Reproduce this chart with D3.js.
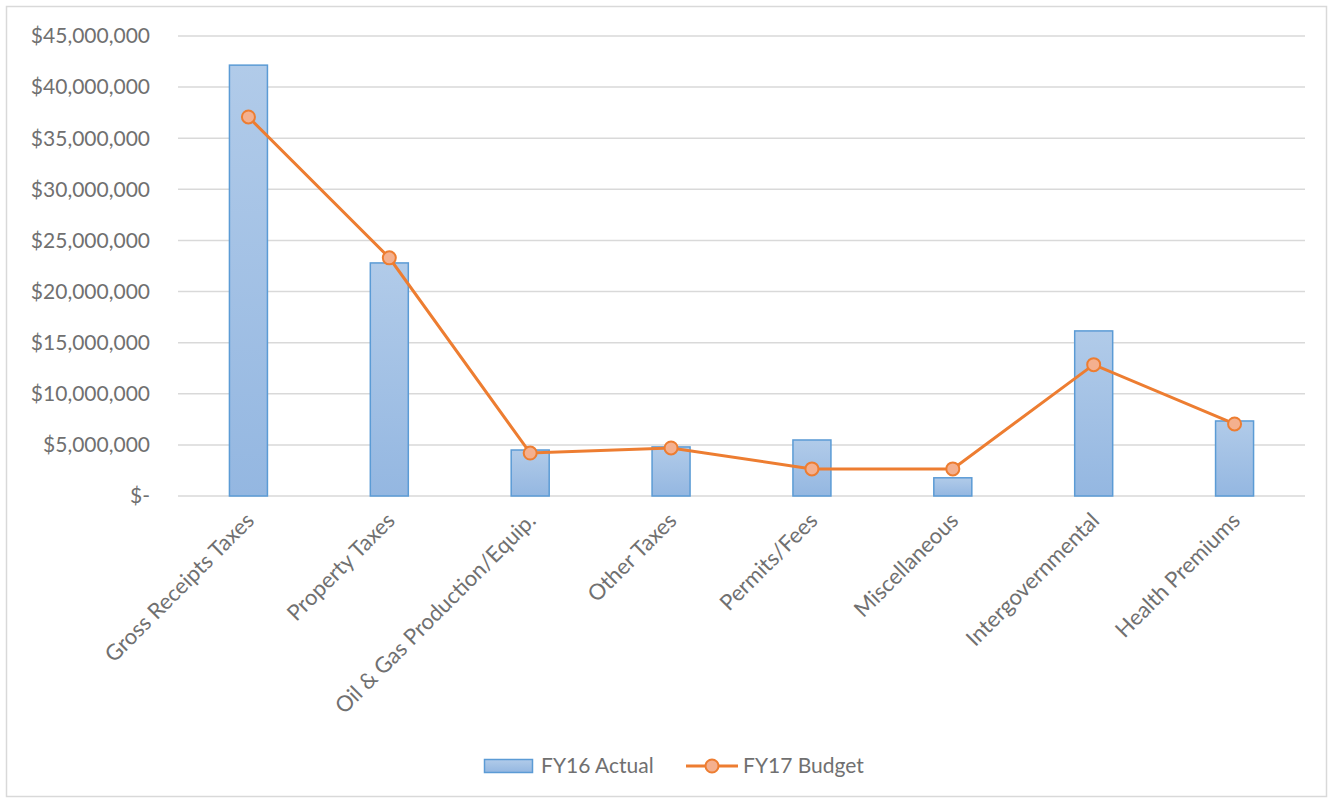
<!DOCTYPE html>
<html>
<head>
<meta charset="utf-8">
<script src="https://cdn.jsdelivr.net/npm/d3@7"></script>
<style>
  body { margin: 0; background: #fff; }
  text { font-family: Lato, "Open Sans", sans-serif; fill: #707070; }
</style>
</head>
<body>
<script>
const width = 1333;
const height = 802;

const categories = ['Gross Receipts Taxes', 'Property Taxes', 'Oil & Gas Production/Equip.', 'Other Taxes',
  'Permits/Fees', 'Miscellaneous', 'Intergovernmental', 'Health Premiums'];
const fy16Actual = [42150000, 22800000, 4500000, 4800000, 5480000, 1780000, 16150000, 7340000];
const fy17Budget = [37080000, 23300000, 4200000, 4700000, 2650000, 2650000, 12850000, 7050000];
const yTicks = [0, 5000000, 10000000, 15000000, 20000000, 25000000, 30000000, 35000000, 40000000, 45000000];

const margin = {left: 178, right: 28, top: 36, bottom: 306};

const svg = d3.select('body').append('svg').attr('width', width).attr('height', height);

// gradient for bars
const grad = svg.append('defs').append('linearGradient')
    .attr('id', 'barGrad').attr('x1', 0).attr('y1', 0).attr('x2', 0).attr('y2', 1);
grad.append('stop').attr('offset', '0%').attr('stop-color', '#b1cbe9');
grad.append('stop').attr('offset', '100%').attr('stop-color', '#94b7e1');

// chart border
svg.append('rect')
    .attr('x', 6.5).attr('y', 6.5)
    .attr('width', width - 13).attr('height', height - 12)
    .attr('fill', 'none').attr('stroke', '#d9d9d9').attr('stroke-width', 1.5);

const x = d3.scaleBand().domain(categories).range([margin.left, width - margin.right]).paddingInner(0).paddingOuter(0);
const y = d3.scaleLinear().domain([0, 45000000]).range([height - margin.bottom, margin.top]);

const fmt = v => v === 0 ? '$-' : '$' + d3.format(',')(v);

// grid
svg.append('g')
  .selectAll('line')
  .data(yTicks)
  .join('line')
    .attr('x1', margin.left).attr('x2', width - margin.right)
    .attr('y1', d => y(d)).attr('y2', d => y(d))
    .attr('stroke', '#d9d9d9').attr('stroke-width', 1.5);

// y labels
svg.append('g')
  .selectAll('text')
  .data(yTicks)
  .join('text')
    .attr('x', 150).attr('y', d => y(d))
    .attr('dy', '0.35em')
    .attr('text-anchor', 'end')
    .style('font-size', '21px')
    .text(fmt);

// bars
const barW = 38;
svg.append('g')
  .selectAll('rect')
  .data(categories)
  .join('rect')
    .attr('x', d => x(d) + x.bandwidth() / 2 - barW / 2)
    .attr('y', (d, i) => y(fy16Actual[i]))
    .attr('width', barW)
    .attr('height', (d, i) => y(0) - y(fy16Actual[i]))
    .attr('fill', 'url(#barGrad)')
    .attr('stroke', '#5b9bd5').attr('stroke-width', 1.5);

// line
const line = d3.line()
    .x((d, i) => x(categories[i]) + x.bandwidth() / 2)
    .y(d => y(d));

svg.append('path')
    .datum(fy17Budget)
    .attr('d', line)
    .attr('fill', 'none')
    .attr('stroke', '#ed7d31').attr('stroke-width', 3);

svg.append('g')
  .selectAll('circle')
  .data(fy17Budget)
  .join('circle')
    .attr('cx', (d, i) => x(categories[i]) + x.bandwidth() / 2)
    .attr('cy', d => y(d))
    .attr('r', 6.5)
    .attr('fill', '#f4b08f')
    .attr('stroke', '#ed7d31').attr('stroke-width', 2);

// x labels
svg.append('g')
  .selectAll('text')
  .data(categories)
  .join('text')
    .attr('transform', d => `translate(${x(d) + x.bandwidth() / 2 + 7},${y(0) + 26}) rotate(-45)`)
    .attr('text-anchor', 'end')
    .style('font-size', '22px')
    .text(d => d);

// legend
const leg = svg.append('g').attr('transform', 'translate(0,766)');
leg.append('rect')
    .attr('x', 484.5).attr('y', -6.5).attr('width', 48).attr('height', 13)
    .attr('fill', 'url(#barGrad)').attr('stroke', '#5b9bd5').attr('stroke-width', 1.5);
leg.append('text').attr('x', 541).attr('dy', '0.35em').style('font-size', '21px').text('FY16 Actual');
leg.append('line')
    .attr('x1', 686).attr('x2', 738).attr('y1', 0).attr('y2', 0)
    .attr('stroke', '#ed7d31').attr('stroke-width', 3);
leg.append('circle').attr('cx', 712).attr('cy', 0).attr('r', 6.5)
    .attr('fill', '#f4b08f').attr('stroke', '#ed7d31').attr('stroke-width', 2);
leg.append('text').attr('x', 743).attr('dy', '0.35em').style('font-size', '21px').text('FY17 Budget');
</script>
</body>
</html>
